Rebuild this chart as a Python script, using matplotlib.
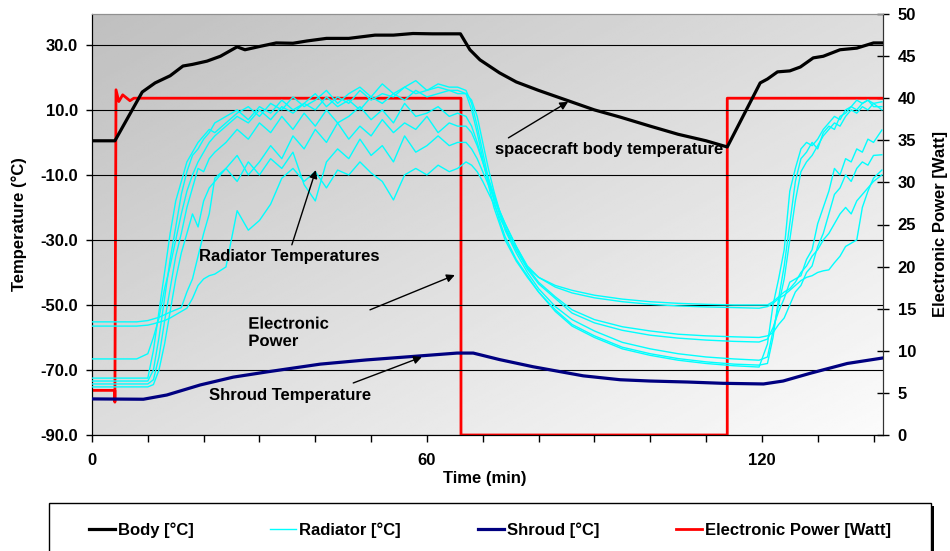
import numpy as np
import matplotlib
matplotlib.use("Agg")
import matplotlib.pyplot as plt
import matplotlib.patheffects as pe
from matplotlib.lines import Line2D
from matplotlib.patches import Rectangle
from matplotlib.transforms import Bbox, TransformedBbox
from matplotlib.ticker import MultipleLocator, FixedLocator, FormatStrFormatter

plt.rcParams['font.family'] = ['Liberation Sans', 'DejaVu Sans']
plt.rcParams['font.weight'] = 'bold'
plt.rcParams['font.size'] = 12
plt.rcParams['axes.unicode_minus'] = False

# Body temperature (deg C)
body_time = [0, 4.1, 9, 11.3, 14, 16.3, 18, 20.6, 23, 26, 27.4, 30, 33, 36, 38.5, 42, 46, 50.7, 54, 57.5,
             61, 66, 67.7, 69.5, 73, 76, 80, 85, 90, 94.6, 100, 105, 110, 113.8, 119.7, 121, 122.8, 125,
             126.9, 129.2, 131, 134, 137, 140, 141.7]
body_temp = [0.5, 0.5, 15.5, 18.3, 20.5, 23.5, 24, 25, 26.5, 29.4, 28.5, 29.5, 30.6, 30.5, 31.2, 32, 32, 33, 33, 33.5,
             33.4, 33.4, 28.5, 25.4, 21.4, 18.6, 16, 13, 10, 7.8, 5, 2.5, 0.5, -1.4, 18.3, 19.5, 21.7, 22,
             23.2, 26, 26.5, 28.5, 29, 30.6, 30.6]

# Shroud temperature (deg C)
shroud_time = [0, 9.2, 13.4, 19.4, 25.3, 31.3, 40.9, 49.2, 57, 65.4, 68.3, 73, 79, 88, 94.6, 100, 106.6,
               113, 120.3, 123.8, 128.7, 135.3, 141.7]
shroud_temp = [-78.9, -79, -77.7, -74.6, -72.2, -70.6, -68.2, -66.9, -65.9, -64.8, -64.8, -66.8, -69, -71.8,
               -73, -73.4, -73.7, -74.1, -74.3, -73.4, -71, -68, -66.3]

# Electronic power (Watt)
power_time = [0, 4.1, 4.1, 4.3, 4.8, 5.5, 6.8, 7.5, 66.1, 66.1, 113.8, 113.8, 141.7]
power_watt = [5.3, 5.3, 3.9, 41.0, 39.6, 40.4, 39.7, 40.0, 40.0, 0.0, 0.0, 40.0, 40.0]

# Radiator temperatures (deg C), seven sensors on a common time base
rad_time = [0, 8, 10, 11, 12, 13, 14, 15, 16, 17, 18, 19, 20, 21, 22,
            24, 26, 28, 30, 32, 34, 36, 38, 40, 42, 44, 46, 48, 50, 52, 54, 56, 58, 60, 62, 64, 65.5,
            67, 68, 69, 70, 71, 72, 73, 74, 76, 78, 80, 83, 86, 90, 95, 100, 105, 110, 115, 119.5,
            121, 122, 123, 124, 125, 126, 127, 128, 129, 130, 131, 132, 133, 134, 135, 136, 137, 138, 139, 140, 141.5]
rad_1 = [-72.5, -72.5, -72.5, -64, -52, -40, -28, -18, -12, -6, -3, 0, 2, 4, 3,
         6, 9, 11, 8, 12, 10, 14, 11, 13, 16, 12, 15, 17, 14, 18, 15, 17, 19, 16, 18, 17, 17,
         16, 12, 5, -3, -11, -18, -24, -29, -36, -41, -46, -52, -56.5, -60, -63.5, -65.5, -67, -68, -68.7, -69.1,
         -62, -50, -42, -33, -15, -8, -2, 0, -1, 1, 4, 6, 8, 7, 10, 11, 13, 12, 13, 12, 12.5]
rad_2 = [-73.4, -73.4, -73.4, -70, -60, -48, -36, -26, -16, -9, -4, -2, 1, 3, 6,
         8, 10, 7, 11, 9, 13, 10, 12, 15, 11, 14, 12, 16, 13, 15, 14, 17, 15, 16, 17, 16, 16,
         15, 10, 3, -5, -13, -20, -25, -30, -36.5, -41.5, -46, -51.5, -56, -59.5, -63, -65, -66.5, -67.5, -68.2, -68.5,
         -68, -60, -48, -38, -25, -12, -5, -3, 0, -2, 3, 5, 4, 8, 9, 11, 10, 12, 13, 11, 11]
rad_3 = [-66.6, -66.6, -65, -60, -54, -45, -38, -30, -22, -15, -10, -6, -3, 0, 2,
         5, 8, 6, 10, 7, 11, 9, 12, 10, 14, 11, 13, 10, 14, 12, 15, 13, 16, 14, 15, 16, 15,
         15, 13, 8, 0, -8, -15, -21, -27, -34, -40, -45, -50.5, -54.5, -58, -61.5, -63.5, -65, -66, -66.6, -67,
         -66, -58, -50, -42, -30, -18, -9, -6, -4, -1, 2, 4, 6, 5, 8, 10, 9, 11, 10, 12, 10]
rad_4 = [-74.3, -74.3, -74.3, -73, -66, -55, -45, -35, -28, -20, -14, -8, -9, -5, -3,
         0, 4, 1, 6, 3, 8, 4, 9, 5, 10, 6, 8, 11, 7, 10, 6, 12, 8, 9, 11, 8, 9,
         8, 5, 0, -6, -12, -17, -22, -26, -33, -39, -43.5, -48, -52.5, -55.5, -57.8, -59.3, -60.2, -60.8, -61.2, -61.4,
         -60.5, -57, -52, -48, -43, -42, -41, -36, -33, -25, -20, -15, -8, -10, -5, -6, -2, -3, 1, 0, 3.8]
rad_5 = [-75.2, -75.2, -75.2, -74.5, -70, -62, -52, -42, -34, -28, -22, -26, -18, -14, -12,
         -8, -4, -10, -6, -1, -5, 2, -2, 4, 0, 6, 1, 5, 2, 7, 3, 6, 4, 8, 3, 6, 5,
         5, 3, -1, -6, -11, -16, -21, -25, -32, -38.5, -43, -47.5, -51.5, -54.5, -56.7, -58, -59, -59.5, -59.8, -60,
         -59.5, -58.5, -56, -54, -50, -46, -44, -40, -38, -32, -28, -22, -16, -14, -10, -12, -8, -6, -7, -4, -3.8]
rad_6 = [-55.2, -55.2, -54.8, -54.3, -53.8, -53, -52.2, -51.5, -50.8, -46, -42, -35, -28, -22, -11,
         -8, -12, -6, -10, -5, -8, -3, -13, -18, -6, -2, -5, 1, -4, -1, -6, 2, -3, -1, 2, -1, 0,
         0, -2, -5, -9, -13, -17, -21, -25, -32, -38, -41.5, -44.5, -46.3, -47.8, -49, -49.8, -50.3, -50.6, -50.8, -51,
         -50.5, -49.5, -48, -47, -45.5, -44, -42.5, -41.5, -41, -40, -39.5, -39.2, -37, -35, -32, -31, -30, -20, -15, -11, -8.5]
rad_7 = [-56.5, -56.5, -56.2, -55.8, -55.3, -54.8, -54, -53, -52, -51, -48, -44, -42, -41, -40.5,
         -38.3, -21, -27, -24, -19, -11, -8, -12, -9, -14, -8.5, -10, -6, -9.4, -12, -17.7, -10, -8, -10, -7, -9, -8,
         -6, -7, -9, -12, -15.5, -19, -23, -26.5, -33, -38.5, -41.5, -44, -45.5, -47, -48.2, -49, -49.5, -49.8, -50, -50,
         -50, -49, -47.5, -46, -45, -43, -40, -38, -35, -33, -30, -28, -25, -22, -20, -22, -18, -16, -14, -12, -10]
radiators = [rad_1, rad_2, rad_3, rad_4, rad_5, rad_6, rad_7]

temp_ticks = [-90, -70, -50, -30, -10, 10, 30]
time_labels = [0, 60, 120]

fig = plt.figure(figsize=(9.5, 5.51), dpi=100)
ax2 = fig.add_axes([92 / 950, 1 - 435 / 551, (883 - 92) / 950, (435 - 14) / 551])
ax = ax2.twinx()
ax2.yaxis.tick_right()
ax2.yaxis.set_label_position('right')
ax.yaxis.tick_left()
ax.set_zorder(2)
ax2.set_zorder(1)
ax.patch.set_visible(False)

# grey gradient background
gx, gy = np.meshgrid(np.linspace(0, 1, 200), np.linspace(1, 0, 200))
grad = 0.75 + 0.235 * (gx + (1 - gy)) / 2
ax2.imshow(grad, cmap='gray', vmin=0, vmax=1, extent=[0, 1, 0, 1], transform=ax2.transAxes,
           aspect='auto', zorder=0, interpolation='bilinear')

# power on the right axis
ax2.plot(power_time, power_watt, color='#ff0000', lw=2.0, zorder=3)
ax2.set_ylim(0, 50)
ax2.set_xlim(0, 141.7)
ax2.yaxis.set_major_locator(MultipleLocator(5))
ax2.tick_params(axis='y', direction='inout', length=9, width=1, pad=6, labelsize=12)

# temperatures on the left axis
for r in radiators:
    ax.plot(rad_time, r, color='#00ffff', lw=1.0, zorder=3)
ax.plot(shroud_time, shroud_temp, color='#000080', lw=2.3, zorder=4)
ax.plot(body_time, body_temp, color='black', lw=2.3, zorder=4)

ax.set_ylim(-90, 39.5)
ax.set_xlim(0, 141.7)
ax.yaxis.set_major_locator(FixedLocator(temp_ticks))
ax.yaxis.set_major_formatter(FormatStrFormatter('%.1f'))
ax.tick_params(axis='y', direction='out', length=4, width=1, pad=6, labelsize=12)
ax.grid(axis='y', color='black', lw=0.8)

ax2.xaxis.set_major_locator(FixedLocator(time_labels))
ax2.xaxis.set_minor_locator(MultipleLocator(10))
ax2.tick_params(axis='x', which='both', direction='out', length=5, width=1, pad=8, labelsize=12)
ax.tick_params(axis='x', which='both', bottom=False, labelbottom=False)

for a in (ax, ax2):
    a.spines['top'].set_color('#909090')
    a.spines['left'].set_color('black')
    a.spines['right'].set_color('#333333')
    a.spines['bottom'].set_color('black')

fig.text(19 / 950, 1 - 224 / 551, 'Temperature (°C)', rotation=90, ha='center', va='center',
         fontsize=12, fontweight='bold')
fig.text(940 / 950, 1 - 224 / 551, 'Electronic Power [Watt]', rotation=90, ha='center', va='center',
         fontsize=12, fontweight='bold')
fig.text(485 / 950, 1 - 478 / 551, 'Time (min)', ha='center', va='center', fontsize=12, fontweight='bold')

# annotations
arrow = dict(arrowstyle='-|>', color='black', lw=1, mutation_scale=12, shrinkA=0, shrinkB=0)
ax.text(72.2, -2.3, 'spacecraft body temperature', ha='left', va='center', zorder=6)
ax.annotate('', xy=(85.3, 12.5), xytext=(74.6, 1.4), arrowprops=arrow, zorder=6)
ax.text(19.2, -35.2, 'Radiator Temperatures', ha='left', va='center', zorder=6)
ax.annotate('', xy=(40.1, -8.5), xytext=(35.8, -31.5), arrowprops=arrow, zorder=6)
# the second line of this label is cut off in the original
pw = ax.text(28, -53.6, 'Electronic\nPower', ha='left', va='top', zorder=6, linespacing=1.2,
             path_effects=[pe.Normal()])
pw.set_clip_on(True)
pw.set_clip_box(TransformedBbox(Bbox([[0, (551 - 346) / 551], [1, 1]]), fig.transFigure))
ax.annotate('', xy=(65, -40.8), xytext=(49.8, -51.5), arrowprops=arrow, zorder=6)
ax.text(21, -77.7, 'Shroud Temperature', ha='left', va='center', zorder=6)
ax.annotate('', xy=(59.1, -66), xytext=(46.8, -74), arrowprops=arrow, zorder=6)

# legend box at the bottom
x0, x1, ytop = 49 / 950, 931 / 950, 1 - 503 / 551
fig.add_artist(Rectangle((x0 + 3 / 950, -0.1), x1 - x0, ytop + 0.1 - 3 / 551, transform=fig.transFigure,
                         facecolor='black', edgecolor='black', lw=0))
fig.add_artist(Rectangle((x0, -0.1), x1 - x0, ytop + 0.1, transform=fig.transFigure,
                         facecolor='white', edgecolor='black', lw=1))
handles = [Line2D([], [], color='black', lw=2.3),
           Line2D([], [], color='#00ffff', lw=1.0),
           Line2D([], [], color='#000080', lw=2.3),
           Line2D([], [], color='#ff0000', lw=2.0)]
labels = ['Body [°C]', 'Radiator [°C]', 'Shroud [°C]', 'Electronic Power [Watt]']
fig.legend(handles, labels, ncol=4, loc='center left', bbox_to_anchor=(89 / 950, 1 - 530 / 551),
           frameon=False, borderpad=0, borderaxespad=0, handlelength=1.56, handletextpad=0.18,
           columnspacing=4.6, prop={'weight': 'bold', 'size': 12})

fig.savefig('out.png', dpi=100)
